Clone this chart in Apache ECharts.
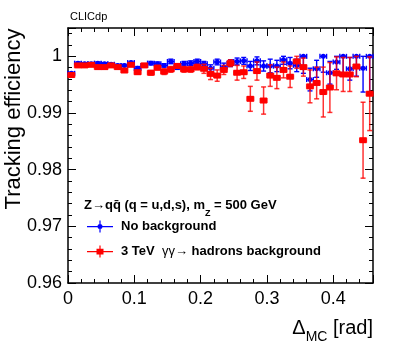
<!DOCTYPE html>
<html>
<head>
<meta charset="utf-8">
<script src="https://cdn.jsdelivr.net/npm/echarts@6/dist/echarts.min.js"></script>
<style>
html, body { margin: 0; padding: 0; background: #fff; }
#chart { width: 407px; height: 345px; }
</style>
</head>
<body>
<div id="chart"></div>
<script>
// bin centres (0.01 rad wide bins)
var binCenters = [0.005, 0.015, 0.025, 0.035, 0.045, 0.055, 0.065, 0.075, 0.085, 0.095,
	0.105, 0.115, 0.125, 0.135, 0.145, 0.155, 0.165, 0.175, 0.185, 0.195,
	0.205, 0.215, 0.225, 0.235, 0.245, 0.255, 0.265, 0.275, 0.285, 0.295,
	0.305, 0.315, 0.325, 0.335, 0.345, 0.355, 0.365, 0.375, 0.385, 0.395,
	0.405, 0.415, 0.425, 0.435, 0.445, 0.455];
var halfBin = 0.005;

// no background
var blueEff = [0.9970, 0.9988, 0.9987, 0.9987, 0.9988, 0.9987, 0.9986, 0.9984, 0.9984, 0.9989,
	0.9979, 0.9984, 0.9988, 0.9987, 0.9984, 0.9991, 0.9981, 0.9987, 0.9988, 0.9991,
	0.9987, 0.9979, 0.9990, 0.9981, 0.9988, 0.9991, 0.9992, 0.9983, 0.9992, 0.9983,
	0.9983, 0.9983, 0.9994, 0.9988, 0.9984, 1.0000, 0.9959, 0.9978, 1.0000, 0.9971,
	0.9990, 1.0000, 0.9978, 1.0000, 0.9979, 1.0000];
var blueErr = [0.0002, 0.0002, 0.0002, 0.0002, 0.0002, 0.0002, 0.0002, 0.0002, 0.0002, 0.0002,
	0.0003, 0.0003, 0.0003, 0.0003, 0.0003, 0.0004, 0.0004, 0.0004, 0.0004, 0.0004,
	0.0004, 0.0006, 0.0005, 0.0007, 0.0006, 0.0006, 0.0006, 0.0008, 0.0007, 0.0009,
	0.0012, 0.0010, 0.0008, 0.0010, 0.0011, 0.0030, 0.0020, 0.0015, 0.0028, 0.0020,
	0.0013, 0.0030, 0.0020, 0.0035, 0.0042, 0.0065];

// 3 TeV gamma gamma -> hadrons background
var redEff = [0.9967, 0.9984, 0.9984, 0.9985, 0.9981, 0.9981, 0.9984, 0.9981, 0.9975, 0.9985,
	0.9972, 0.9984, 0.9971, 0.9980, 0.9973, 0.9977, 0.9983, 0.9977, 0.9977, 0.9981,
	0.9978, 0.9969, 0.9966, 0.9976, 0.9988, 0.9971, 0.9972, 0.9925, 0.9974, 0.9922,
	0.9966, 0.9962, 0.9976, 0.9964, 0.9991, 0.9981, 0.9947, 0.9953, 0.9937, 0.9945,
	0.9970, 0.9968, 0.9968, 0.9982, 0.9852, 0.9934];
var redErr = [0.0002, 0.0002, 0.0002, 0.0002, 0.0002, 0.0002, 0.0002, 0.0002, 0.0003, 0.0002,
	0.0003, 0.0003, 0.0004, 0.0004, 0.0005, 0.0005, 0.0004, 0.0005, 0.0005, 0.0005,
	0.0008, 0.0010, 0.0010, 0.0008, 0.0006, 0.0013, 0.0011, 0.0022, 0.0016, 0.0024,
	0.0019, 0.0019, 0.0014, 0.0019, 0.0012, 0.0016, 0.0029, 0.0028, 0.0044, 0.0044,
	0.0029, 0.0030, 0.0030, 0.0018, 0.0067, 0.0065];

var blueName = 'No background';
var redName = '3 TeV γγ→ hadrons background';
var blue = '#0000ff';
var red = '#ff0000';
var font = '"Liberation Sans", Arial, Helvetica, sans-serif';

var chart = echarts.init(document.getElementById('chart'), null, {renderer: 'canvas'});

function rows(eff, err){
	var out = [];
	for(var i=0; i<binCenters.length; i++){
		out.push([binCenters[i], eff[i], err[i]]);
	}
	return out;
}

function errorBars(color, width){
	return function(params, api){
		var x = api.value(0), y = api.value(1), e = api.value(2);
		var c = api.coord([x, y]);
		var l = api.coord([x - halfBin, y]);
		var r = api.coord([x + halfBin, y]);
		var top = api.coord([x, Math.min(y + e, 1)]);
		var bot = api.coord([x, y - e]);
		var cap = 2.5;
		var style = {stroke: color, lineWidth: width};
		var seg = function(x1, y1, x2, y2){
			return {type: 'line', shape: {x1: x1, y1: y1, x2: x2, y2: y2}, style: style};
		};
		return {type: 'group', children: [
			seg(l[0], c[1], r[0], c[1]),
			seg(l[0], c[1] - cap, l[0], c[1] + cap),
			seg(r[0], c[1] - cap, r[0], c[1] + cap),
			seg(c[0], top[1], c[0], bot[1]),
			seg(c[0] - cap, top[1], c[0] + cap, top[1]),
			seg(c[0] - cap, bot[1], c[0] + cap, bot[1])
		]};
	};
}

function xAx(pos, interval, len, line, labels){
	return {
		type: 'value', position: pos, min: 0, max: 0.46, interval: interval,
		axisLine: {show: line, onZero: false, lineStyle: {color: '#000', width: 1.5}},
		axisTick: {show: true, inside: true, length: len, lineStyle: {color: '#000', width: 1}},
		axisLabel: {show: labels, margin: 7, fontSize: 18, color: '#000', fontFamily: font,
			formatter: function(v){ return v > 0.4001 ? '' : String(Math.round(v*10)/10); }},
		splitLine: {show: false}
	};
}
function yAx(pos, interval, len, line, labels){
	return {
		type: 'value', position: pos, min: 0.96, max: 1.005, interval: interval,
		axisLine: {show: line, onZero: false, lineStyle: {color: '#000', width: 1.5}},
		axisTick: {show: true, inside: true, length: len, lineStyle: {color: '#000', width: 1}},
		axisLabel: {show: labels, margin: 6, fontSize: 18, color: '#000', fontFamily: font,
			formatter: function(v){ return v > 1.0001 ? '' : String(Math.round(v*100)/100); }},
		splitLine: {show: false}
	};
}

var blueIcon = 'path://M0,5.5h26v1.2H0z M12.4,0h1.2v12h-1.2z M10.5,6.1a2.5,2.5 0 1,1 5,0a2.5,2.5 0 1,1 -5,0z';
var redIcon = 'path://M0,5.5h26v1.2H0z M12.4,0h1.2v12h-1.2z M9.5,3.3h7v5.6h-7z';

var option = {
	animation: false,
	backgroundColor: '#fff',
	grid: {left: 68, right: 34, top: 28, bottom: 62, containLabel: false},
	title: [{
		text: 'CLICdp', left: 70, top: 11, padding: 0,
		textStyle: {fontSize: 11, fontWeight: 'normal', color: '#000', fontFamily: font}
	}, {
		text: '{b|Z→qq̄ (q = u,d,s), m}{s|Z}{b| = 500 GeV}', left: 84, top: 197, padding: 0,
		textStyle: {
			rich: {
				b: {fontSize: 13, fontWeight: 'bold', color: '#000', fontFamily: font, lineHeight: 16},
				s: {fontSize: 9, fontWeight: 'bold', color: '#000', fontFamily: font, lineHeight: 16, verticalAlign: 'bottom', padding: [0, 0, -5, 0]}
			}
		}
	}],
	legend: {
		orient: 'vertical', left: 87, top: 220, itemGap: 12, padding: 0,
		itemWidth: 26, itemHeight: 12,
		data: [
			{name: blueName, icon: blueIcon, itemStyle: {color: blue}},
			{name: redName, icon: redIcon, itemStyle: {color: red}}
		],
		formatter: function(name){
			if(name === redName){
				return '{b|3 TeV  }{n|γγ→ }{b|hadrons background}';
			}
			return '{b|' + name + '}';
		},
		textStyle: {
			padding: [0, 0, 0, 3],
			rich: {
				b: {fontSize: 13, fontWeight: 'bold', color: '#000', fontFamily: font},
				n: {fontSize: 13, fontWeight: 'normal', color: '#000', fontFamily: font}
			}
		}
	},
	graphic: [{
		type: 'text', x: 14, y: 119, rotation: Math.PI / 2,
		style: {text: 'Tracking efficiency', fontSize: 22, fontFamily: font, fill: '#000',
			align: 'center', verticalAlign: 'middle'}
	}, {
		type: 'text', x: 373, y: 328,
		style: {
			text: '{n|Δ}{s|MC}{n| [rad]}', align: 'right', verticalAlign: 'middle',
			rich: {
				n: {fontSize: 20, fontFamily: font, fill: '#000', lineHeight: 24},
				s: {fontSize: 14, fontFamily: font, fill: '#000', lineHeight: 24, verticalAlign: 'bottom', padding: [0, 0, -4, 0]}
			}
		}
	}],
	xAxis: [
		xAx('bottom', 0.1, 8, true, true),
		xAx('bottom', 0.02, 4, false, false),
		xAx('top', 0.1, 8, true, false),
		xAx('top', 0.02, 4, false, false)
	],
	yAxis: [
		yAx('left', 0.01, 8, true, true),
		yAx('left', 0.002, 4, false, false),
		yAx('right', 0.01, 8, true, false),
		yAx('right', 0.002, 4, false, false)
	],
	series: [{
		name: blueName, type: 'custom',
		renderItem: errorBars(blue, 1.4),
		itemStyle: {color: blue},
		encode: {x: 0, y: 1},
		data: rows(blueEff, blueErr), z: 2
	}, {
		name: blueName, type: 'scatter',
		symbol: 'circle', symbolSize: 5,
		itemStyle: {color: blue, opacity: 1},
		data: rows(blueEff, blueErr), z: 3
	}, {
		name: redName, type: 'custom',
		renderItem: errorBars('rgba(255,0,0,0.8)', 1.5),
		itemStyle: {color: red},
		encode: {x: 0, y: 1},
		data: rows(redEff, redErr), z: 4
	}, {
		name: redName, type: 'scatter',
		symbol: 'rect', symbolSize: [7, 6],
		itemStyle: {color: red, opacity: 1},
		data: rows(redEff, redErr), z: 5
	}]
};

chart.setOption(option);
</script>
</body>
</html>
